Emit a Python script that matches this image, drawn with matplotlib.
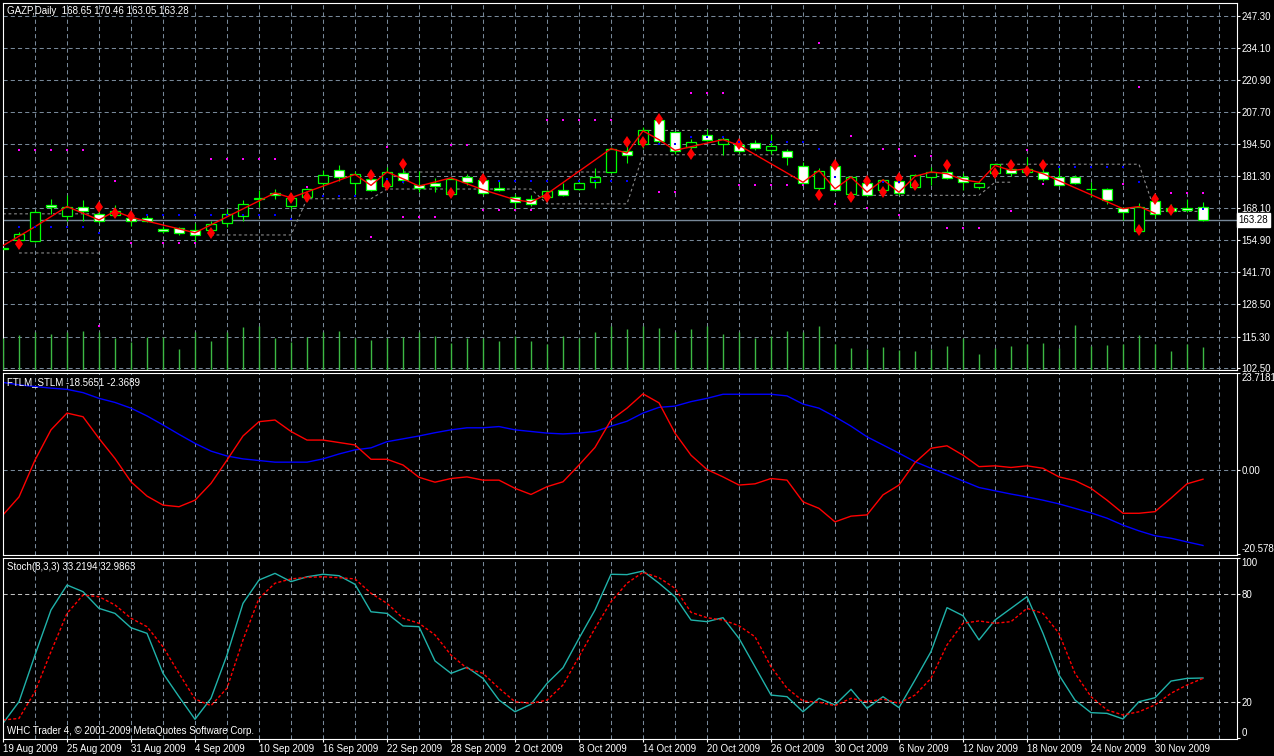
import numpy as np
import matplotlib
matplotlib.use("Agg")
import matplotlib.pyplot as plt

plt.rcParams["font.family"] = ["Liberation Sans", "DejaVu Sans"]
plt.rcParams["lines.scale_dashes"] = False

# ---- GAZP daily, 19 Aug 2009 .. 3 Dec 2009 (76 bars) ----
date_labels = ["19 Aug 2009", "25 Aug 2009", "31 Aug 2009", "4 Sep 2009", "10 Sep 2009",
               "16 Sep 2009", "22 Sep 2009", "28 Sep 2009", "2 Oct 2009", "8 Oct 2009",
               "14 Oct 2009", "20 Oct 2009", "26 Oct 2009", "30 Oct 2009", "6 Nov 2009",
               "12 Nov 2009", "18 Nov 2009", "24 Nov 2009", "30 Nov 2009"]

opens = [151.4, 155.1, 154.8, 169.6, 164.8, 168.7, 165.8, 165.4, 164.1, 164.1,
         159.7, 159.8, 159.2, 159.2, 162.1, 165.1, 171.8, 174.5, 169.1, 172.6,
         178.4, 183.9, 178.4, 180.2, 177.3, 182.5, 177.8, 178.3, 174.0, 180.9,
         179.8, 176.5, 172.8, 171.7, 172.6, 175.8, 175.9, 178.8, 183.0, 191.6,
         194.4, 204.6, 199.5, 193.3, 198.4, 194.5, 194.0, 195.1, 192.2, 191.6,
         185.6, 176.5, 185.3, 174.0, 178.6, 175.7, 179.5, 176.8, 180.9, 183.0,
         180.8, 176.8, 182.7, 184.4, 183.2, 183.0, 180.9, 180.8, 176.0, 176.1,
         168.3, 158.9, 170.9, 168.4, 168.3, 168.65]
highs = [152.6, 158.3, 167.2, 172.0, 173.6, 171.6, 167.5, 169.6, 165.8, 165.5,
         160.8, 160.4, 161.9, 163.0, 167.9, 171.3, 175.7, 176.1, 173.0, 176.5,
         183.7, 186.0, 183.6, 181.2, 185.0, 187.5, 183.6, 180.5, 181.0, 182.0,
         180.5, 179.5, 174.0, 173.5, 175.8, 178.5, 179.0, 184.6, 193.2, 194.5,
         201.5, 205.3, 200.0, 196.6, 200.8, 197.5, 195.5, 196.0, 198.7, 192.5,
         187.0, 184.5, 186.0, 181.5, 180.0, 180.3, 180.0, 182.2, 185.0, 184.5,
         182.5, 179.5, 186.5, 185.3, 189.2, 185.0, 185.0, 181.7, 178.8, 176.4,
         168.8, 170.3, 173.0, 169.8, 172.0, 170.46]
lows = [150.2, 154.2, 154.4, 165.9, 163.0, 163.0, 162.2, 164.4, 160.9, 162.3,
        158.0, 157.2, 153.7, 158.4, 160.3, 163.0, 168.5, 172.0, 167.9, 171.0,
        176.8, 179.5, 174.0, 175.0, 176.5, 178.5, 174.7, 174.7, 173.5, 177.6,
        173.6, 175.0, 167.2, 169.2, 171.5, 173.2, 175.5, 176.4, 182.5, 186.9,
        193.0, 195.0, 190.5, 191.0, 195.8, 190.0, 190.8, 192.0, 190.5, 185.8,
        177.8, 175.0, 175.0, 173.4, 173.0, 175.2, 173.5, 176.3, 177.5, 180.0,
        175.8, 176.0, 182.0, 181.5, 182.0, 179.5, 177.2, 178.0, 172.6, 170.0,
        163.2, 158.0, 164.0, 166.0, 166.6, 163.05]
closes = [151.8, 157.5, 166.7, 168.5, 168.8, 166.9, 163.0, 167.0, 162.9, 163.0,
          158.6, 157.9, 157.1, 161.7, 165.8, 169.9, 172.4, 173.6, 172.4, 176.1,
          181.6, 180.9, 182.0, 175.7, 183.0, 179.8, 176.6, 177.3, 180.2, 178.8,
          174.4, 175.7, 170.7, 169.9, 175.0, 173.5, 178.6, 181.1, 192.6, 190.1,
          200.1, 195.6, 191.6, 195.5, 196.3, 196.7, 191.6, 193.0, 193.5, 189.3,
          178.4, 183.6, 175.7, 180.9, 173.6, 179.8, 174.3, 181.6, 183.1, 180.6,
          178.8, 178.6, 186.1, 182.7, 184.4, 180.2, 177.8, 178.4, 176.2, 171.6,
          166.4, 168.8, 165.8, 166.9, 167.2, 163.28]
volume = [31.8, 34.5, 37.2, 35.5, 37.2, 38.5, 37.2, 31.8, 27.5, 32.8,
          32.8, 20.5, 37.2, 28.5, 37.2, 42.5, 43.5, 31.8, 27.8, 32.8,
          37.2, 38.5, 31.8, 29.5, 31.8, 32.8, 37.2, 33.5, 26.8, 31.8,
          31.2, 28.8, 33.2, 28.8, 25.5, 33.2, 31.5, 37.5, 43.2, 40.5,
          43.8, 41.5, 37.5, 40.5, 43.8, 35.8, 37.5, 31.5, 33.2, 38.8,
          37.5, 43.8, 25.5, 21.5, 20.8, 22.5, 19.8, 18.8, 20.5, 23.8,
          31.5, 15.5, 21.5, 23.8, 25.5, 26.5, 21.5, 44.8, 23.2, 24.8,
          25.5, 34.8, 25.5, 18.8, 25.5, 22.5]

# red zigzag-like line through the candles
zz_bar = [0, 2, 4, 6, 7, 8, 12, 17, 18, 22, 23, 24, 25, 26, 28, 30, 32, 33, 34, 38,
          39, 40, 41, 42, 44, 45, 46, 50, 51, 52, 53, 54, 55, 56, 57, 58, 59, 60, 61,
          62, 63, 64, 65, 70, 71, 72]
zz_price = [152.7, 160.5, 168.8, 163.3, 166.9, 164.4, 158.0, 174.4, 172.4, 182.0,
            177.5, 183.0, 180.2, 177.2, 180.6, 175.7, 171.6, 170.6, 174.0, 192.6,
            190.8, 199.9, 196.3, 191.9, 194.9, 196.3, 194.0, 178.8, 183.6, 176.1,
            180.9, 174.7, 179.8, 174.7, 181.2, 183.0, 182.3, 179.8, 178.8, 185.7,
            183.6, 184.3, 182.3, 167.9, 168.8, 166.0]

# red arrow marks
arr_bar = [1, 6, 7, 8, 13, 18, 19, 23, 24, 25, 28, 30, 34, 39, 40, 41, 43, 46, 51, 52,
           53, 54, 55, 56, 57, 59, 62, 63, 64, 65, 71, 72, 73]
arr_price = [153.4, 168.8, 166.0, 165.1, 158.0, 172.4, 172.9, 181.6, 177.5, 186.4,
             174.5, 180.1, 172.9, 195.5, 195.2, 205.0, 190.5, 194.7, 173.6, 185.7,
             172.6, 179.1, 174.6, 180.6, 177.5, 185.7, 182.5, 185.7, 183.6, 185.7,
             159.3, 172.0, 167.2]

# small magenta / blue dots
mag_bar = [1, 2, 3, 4, 5, 7, 8, 10, 11, 12, 13, 14, 15, 16, 17, 19, 23, 24, 25, 26,
           27, 28, 29, 30, 31, 32, 33, 34, 35, 36, 37, 38, 41, 42, 43, 44, 45, 46, 47,
           48, 49, 50, 51, 52, 53, 54, 55, 56, 56, 57, 58, 59, 60, 61, 63, 64, 65, 70,
           71, 73, 74, 75, 6]
mag_price = [191.9, 191.9, 191.9, 191.9, 191.9, 179.1, 153.8, 153.8, 153.8, 153.8,
             188.2, 188.2, 188.2, 188.2, 188.2, 176.8, 156.1, 193.3, 164.4, 164.4,
             164.4, 194.3, 194.3, 167.2, 167.2, 167.2, 167.2, 204.4, 204.4, 204.4,
             204.4, 204.4, 174.7, 174.7, 215.3, 215.3, 215.3, 177.6, 177.6, 177.6,
             177.6, 177.6, 236.2, 169.9, 197.8, 168.0, 192.4, 192.4, 165.4, 189.6,
             189.6, 159.8, 159.8, 159.8, 166.8, 191.9, 178.0, 178.0, 217.8, 174.3,
             174.3, 174.3, 119.8]
blu_bar = [1, 2, 3, 4, 5, 6, 9, 10, 11, 12, 13, 14, 15, 16, 17, 18, 20, 21, 22, 24,
           25, 31, 32, 33, 34, 36, 37, 38, 39, 41, 42, 43, 44, 45, 46, 48, 49, 50, 51,
           52, 55, 56, 66, 67, 68, 69, 70, 71, 75]
blu_price = [160.3, 160.3, 160.3, 160.3, 160.3, 158.0, 165.5, 165.5, 165.5, 165.5,
             165.5, 165.5, 165.5, 165.5, 165.5, 163.7, 173.3, 173.3, 173.3, 180.2,
             178.8, 179.1, 179.1, 179.1, 179.1, 179.1, 179.1, 179.1, 179.1, 194.7,
             194.7, 197.4, 197.4, 197.4, 195.3, 195.3, 195.2, 195.2, 192.6, 180.9,
             178.8, 178.8, 185.0, 185.0, 185.0, 185.0, 185.0, 178.8, 167.8]

nan = np.nan
chan_hi = [165.8] * 7 + [nan] * 18 + [183.0] * 14 + [nan] + [200.1] * 12 + [nan] * 10 \
          + [186.2] * 10 + [166.8] * 4
chan_lo = [nan] + [149.7] * 6 + [nan] * 6 + [157.1] * 6 + [172.0] * 5 + [176.0] * 10 \
          + [169.9] * 6 + [190.1] * 10 + [nan] * 3 + [173.4] * 9 + [178.8] * 2 + [nan] * 12

price_ticks = [102.5, 115.3, 128.5, 141.7, 154.9, 168.1, 181.3, 194.5, 207.7, 220.9, 234.1, 247.3]

ftlm = [-11.1, -6.7, 2.3, 9.7, 13.8, 12.9, 7.6, 2.7, -3.0, -6.5,
        -8.7, -9.1, -7.5, -3.4, 2.3, 8.2, 11.7, 12.1, 9.3, 7.2,
        7.2, 6.6, 6.0, 2.5, 2.5, 1.1, -1.9, -3.1, -2.2, -1.8,
        -2.6, -2.6, -4.6, -6.1, -4.2, -3.0, 1.1, 5.4, 12.1, 15.0,
        18.5, 16.3, 8.9, 3.5, 0.0, -1.8, -3.8, -3.5, -2.2, -2.6,
        -7.9, -9.5, -12.8, -11.4, -11.1, -6.2, -3.8, 1.7, 5.2, 5.8,
        3.5, 0.7, 0.9, 0.5, 0.9, 0.3, -1.8, -2.7, -4.6, -7.5,
        -10.7, -10.7, -10.3, -7.0, -3.5, -2.37]
stlm = [21.3, 20.7, 20.3, 19.9, 19.6, 18.8, 17.4, 16.4, 15.0, 13.1,
        10.9, 8.6, 6.4, 4.5, 3.3, 2.6, 2.2, 1.8, 1.8, 1.8,
        2.6, 3.8, 4.8, 5.3, 6.8, 7.5, 8.2, 9.0, 9.7, 10.2,
        10.2, 10.5, 9.7, 9.3, 8.9, 8.7, 8.9, 9.3, 10.6, 11.8,
        13.8, 15.2, 15.5, 16.6, 17.4, 18.4, 18.4, 18.4, 18.4, 18.0,
        16.0, 15.0, 12.9, 10.6, 8.0, 6.0, 4.0, 1.9, 0.3, -1.2,
        -2.8, -4.4, -5.2, -6.0, -6.7, -7.5, -8.4, -9.5, -10.6, -11.9,
        -13.6, -15.0, -16.2, -16.8, -17.7, -18.57]

stoch_k = [8.0, 20.0, 46.0, 71.1, 85.0, 81.3, 72.0, 69.2, 61.2, 58.1,
           35.8, 22.8, 10.2, 21.9, 46.0, 74.8, 87.8, 91.5, 86.9, 89.6,
           91.0, 90.2, 85.4, 70.1, 69.2, 62.2, 61.8, 42.7, 35.8, 39.2,
           33.0, 20.9, 14.4, 18.6, 30.2, 38.9, 55.3, 71.1, 91.0, 90.8,
           92.8, 86.0, 78.5, 65.5, 64.6, 66.8, 55.3, 39.5, 23.7, 22.8,
           14.4, 21.9, 18.2, 26.9, 16.3, 22.8, 16.7, 32.1, 47.9, 72.4,
           67.9, 54.4, 65.5, 72.0, 78.5, 58.1, 34.9, 20.9, 13.9, 13.5,
           10.4, 20.0, 22.2, 31.5, 33.0, 33.2]
stoch_d = [9.8, 10.7, 25.6, 47.9, 69.2, 79.4, 78.5, 73.9, 66.5, 61.8,
           50.6, 35.8, 21.5, 17.8, 27.5, 54.4, 77.6, 86.0, 88.4, 89.3,
           89.6, 89.1, 88.4, 80.4, 74.8, 66.5, 63.7, 57.2, 46.0, 38.6,
           35.8, 27.5, 20.0, 19.1, 20.9, 29.3, 45.1, 60.9, 75.7, 86.0,
           92.1, 89.1, 83.2, 69.8, 66.8, 65.5, 62.3, 56.2, 39.5, 27.5,
           20.4, 19.7, 17.8, 21.9, 20.0, 21.5, 19.1, 23.7, 33.0, 51.6,
           63.7, 65.0, 63.7, 64.6, 72.0, 69.2, 58.1, 35.8, 22.8, 15.4,
           12.6, 14.4, 18.2, 24.7, 29.3, 33.0]

# ---- styling ----
W, H = 1274, 756
BG = "black"
GRID = "#778899"
LIME = "#00ff00"
DASH = (0, (3, 2.2))

bars = np.arange(len(closes))
o, h, l, c = map(np.array, (opens, highs, lows, closes))

fig = plt.figure(figsize=(W / 100, H / 100), dpi=100, facecolor=BG)


def panel(top, bottom):
    ax = fig.add_axes([2.5 / W, 1 - bottom / H, 1234 / W, (bottom - top) / H])
    ax.set_facecolor(BG)
    for s in ax.spines.values():
        s.set_color("white")
        s.set_linewidth(0.8)
    ax.set_xlim(-0.03125, 77.094)
    ax.set_xticks(range(0, 73, 4))
    ax.set_xticks(list(range(2, 75, 4)) + [76], minor=True)
    ax.grid(True, axis="x", which="both", color=GRID, lw=0.75, ls=DASH)
    ax.tick_params(axis="x", which="both", length=0, labelbottom=False)
    return ax


def right_labels(ax):
    ax.yaxis.tick_right()
    ax.tick_params(axis="y", colors="white", labelsize=7, length=2.2, width=0.8, pad=1.5,
                   left=False, labelleft=False, right=True, labelright=True)


# main price window
ax = panel(2.5, 369.5)
ax.set_ylim(101.76, 252.73)

# volume histogram in the bottom of the price window
vax = ax.twinx()
vax.set_ylim(0, 367)
vax.vlines(bars, 0, volume, color="#3cb843", lw=1)
vax.axis("off")

ax.set_yticks(price_ticks)
ax.set_yticklabels([f"{v:.2f}" for v in price_ticks])
right_labels(ax)
ax.grid(True, axis="y", color=GRID, lw=0.75, ls=DASH)

ax.plot(bars, chan_hi, color="#8a8a8a", lw=0.8, ls=(0, (2, 2)), zorder=1.5)
ax.plot(bars, chan_lo, color="#8a8a8a", lw=0.8, ls=(0, (2, 2)), zorder=1.5)
ax.axhline(163.28, color=GRID, lw=1, zorder=1.6)

ax.vlines(bars, l, h, color=LIME, lw=0.8, zorder=2)
ax.bar(bars, np.abs(c - o), bottom=np.minimum(o, c), width=0.6,
       color=np.where(c >= o, "black", "white"), edgecolor=LIME, linewidth=0.9, zorder=3)
ax.plot(zz_bar, zz_price, color="red", lw=1, zorder=4)
ax.plot(arr_bar, arr_price, ls="none", marker="d", ms=6.5, mew=0, color="red", zorder=5)
ax.plot(mag_bar, mag_price, ls="none", marker="s", ms=1.8, mew=0, color="#ff00ff", zorder=5)
ax.plot(blu_bar, blu_price, ls="none", marker="s", ms=1.8, mew=0, color="#0000ff", zorder=5)

ax.text(1 + 2 / 1234, 163.28, "163.28", transform=ax.get_yaxis_transform(),
        color="black", fontsize=7, va="center", ha="left", zorder=10,
        bbox=dict(boxstyle="square,pad=0.2", fc="white", ec="white"))

# FTLM / STLM window
ax2 = panel(372.5, 554.5)
ax2.set_ylim(-20.78, 23.72)
ax2.axhline(0, color=GRID, lw=0.75, ls=DASH)
ax2.plot(bars, stlm, color="#0000ff", lw=1)
ax2.plot(bars, ftlm, color="red", lw=1)
ax2.set_yticks([-20.5786, 0, 23.7181])
ax2.set_yticklabels(["-20.5786", "0.00", "23.7181"])
right_labels(ax2)
ax2.get_yticklabels()[0].set_va("bottom")
ax2.get_yticklabels()[2].set_va("top")

# Stochastic window
ax3 = panel(557.5, 738.5)
ax3.set_ylim(-0.5, 100.34)
for lev in (20, 80):
    ax3.axhline(lev, color="#c0c0c0", lw=0.75, ls=DASH)
ax3.plot(bars, stoch_k, color="#20b2aa", lw=1)
ax3.plot(bars, stoch_d, color="red", lw=1, ls=(0, (2.2, 1.5)))
ax3.set_yticks([0, 20, 80, 100])
ax3.set_yticklabels(["0", "20", "80", "100"])
right_labels(ax3)
ax3.get_yticklabels()[0].set_va("bottom")
ax3.get_yticklabels()[3].set_va("top")
ax3.set_xticklabels(date_labels, ha="left")
ax3.tick_params(axis="x", which="major", length=2.2, width=0.8, colors="white",
                labelbottom=True, labelsize=7, pad=1.5)

# window captions
fig.text(7 / W, 1 - 10.5 / H, "GAZP,Daily  168.65 170.46 163.05 163.28",
         color="white", fontsize=7, va="center", ha="left")
fig.text(7 / W, 1 - 382.5 / H, "FTLM_STLM -18.5651 -2.3689",
         color="white", fontsize=7, va="center", ha="left")
fig.text(7 / W, 1 - 567.5 / H, "Stoch(8,3,3) 33.2194 32.9863",
         color="white", fontsize=7, va="center", ha="left")
fig.text(7 / W, 1 - 730.5 / H, "WHC Trader 4, \u00a9 2001-2009 MetaQuotes Software Corp.",
         color="white", fontsize=7, va="center", ha="left")

fig.savefig("out.png", dpi=100, facecolor=BG)
